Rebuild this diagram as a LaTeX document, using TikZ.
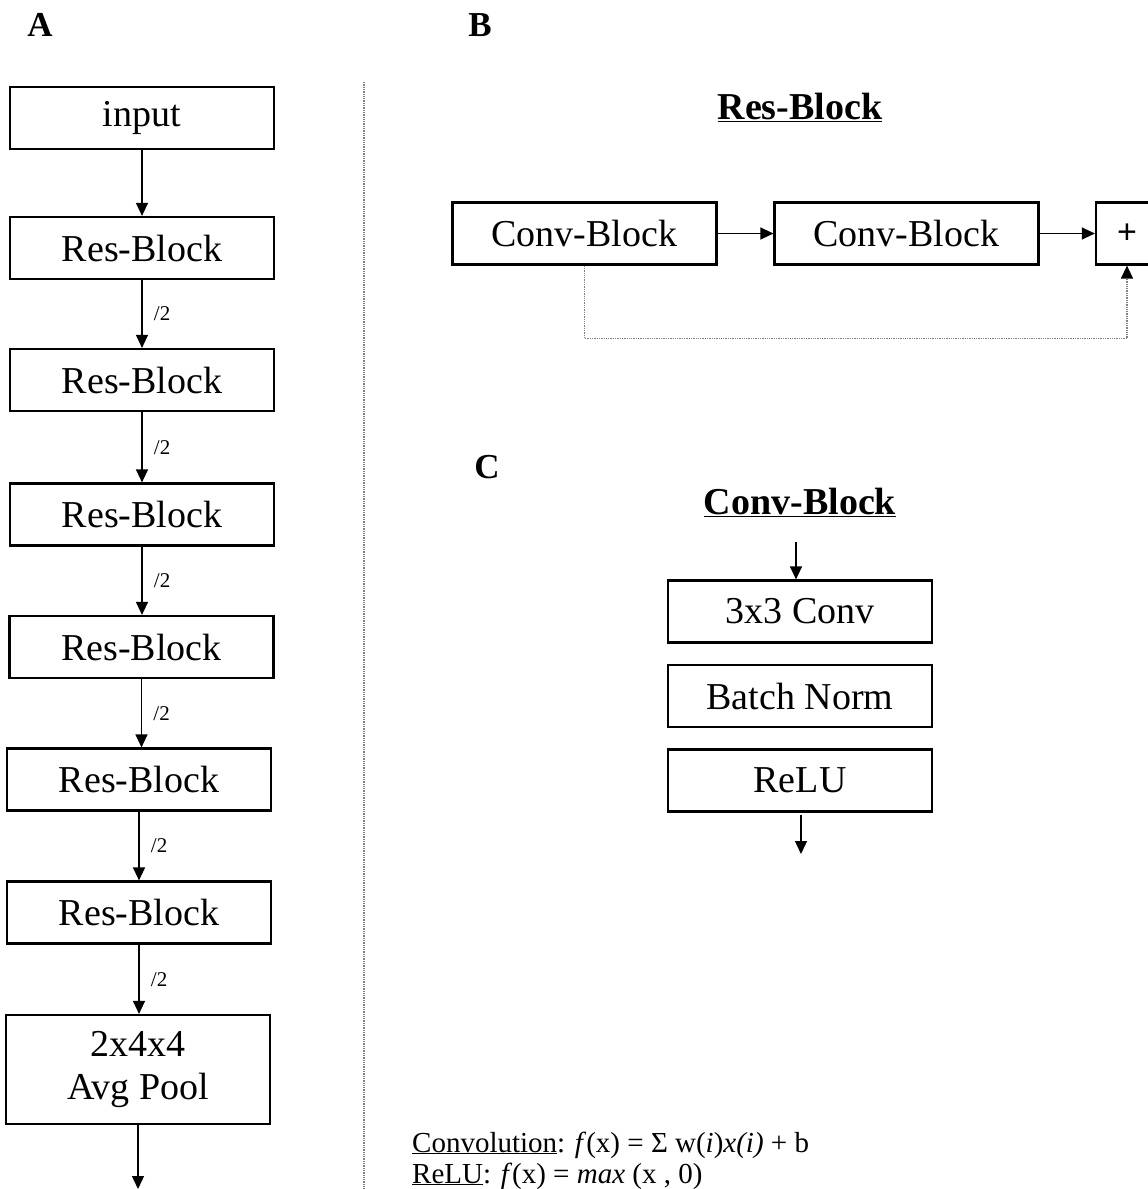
\documentclass[tikz,border=0pt]{standalone}
\usepackage{fontspec}
\setmainfont{Liberation Serif}
\newfontfamily\plusfont{Liberation Sans}
\usetikzlibrary{arrows.meta}
\begin{document}
\begin{tikzpicture}[x=1pt,y=-1pt,
  blk/.style={draw, line width=2.2pt, minimum width=264pt, minimum height=62pt, inner sep=0pt, font=\fontsize{38}{44}\selectfont},
  arr/.style={-{Triangle[length=13pt,width=12pt]}, line width=1.3pt},
  dotarr/.style={densely dotted, draw=gray, line width=1.3pt, -{Triangle[length=13pt,width=12pt,black]}},
  half/.style={font=\fontsize{21}{24}\selectfont},
  panel/.style={font=\bfseries\fontsize{35}{40}\selectfont},
  ttl/.style={font=\bfseries\fontsize{38}{44}\selectfont},
  sep/.style={densely dotted, draw=gray, line width=1.3pt},
  fml/.style={anchor=base west, inner sep=0pt, font=\fontsize{29}{32}\selectfont}]
\useasboundingbox (0,0) rectangle (1148,1189);

% Panel A
\node[panel] (la) at (40,25) {A};
\node[blk] (in) at (142,118) {input};
\node[blk] (r1) at (142,248) {Res-Block};
\node[blk] (r2) at (142,380) {Res-Block};
\node[blk] (r3) at (142,514.5) {Res-Block};
\node[blk] (r4) at (141.5,647) {Res-Block};
\node[blk] (r5) at (139,779.5) {Res-Block};
\node[blk] (r6) at (139,912.5) {Res-Block};
\node[blk, minimum height=109pt, align=center] (ap) at (138,1069.5) {2x4x4\\[-1pt]Avg Pool};
\coordinate (aout) at (138,1189);

\draw[arr] (in) -- (r1);
\draw[arr] (r1.south) -- node[half, right=8pt] {/2} (r1.south |- r2.north);
\draw[arr] (r2.south) -- node[half, right=8pt] {/2} (r2.south |- r3.north);
\draw[arr] (r3.south) -- node[half, right=8pt] {/2} (r3.south |- r4.north);
\draw[arr] (r4.south) -- node[half, right=8pt] {/2} (r4.south |- r5.north);
\draw[arr] (r5.south) -- node[half, right=8pt] {/2} (r5.south |- r6.north);
\draw[arr] (r6.south) -- node[half, right=8pt] {/2} (r6.south |- ap.north);
\draw[arr] (ap.south) -- (aout);

% separator
\coordinate (s1) at (364,82);
\coordinate (s2) at (364,1189);
\draw[sep] (s1) -- (s2);

% Panel B
\node[panel] (lb) at (480,25) {B};
\node[ttl] (rbt) at (800,107) {\underline{Res-Block}};
\node[blk] (cb1) at (584.5,233.5) {Conv-Block};
\node[blk] (cb2) at (906.5,233.5) {Conv-Block};
\node[blk, minimum width=62pt, font=\plusfont\fontsize{34}{40}\selectfont] (plus) at (1127,233.5) {+};
\draw[arr] (cb1) -- (cb2);
\draw[arr] (cb2) -- (plus);
\draw[dotarr] (cb1.south) -- ++(0,73) -| (plus.south);

% Panel C
\node[panel] (lc) at (487,467) {C};
\node[ttl] (cbt) at (800,502) {\underline{Conv-Block}};
\node[blk] (cv) at (800,611.5) {3x3 Conv};
\node[blk] (bn) at (800,696) {Batch Norm};
\node[blk] (rl) at (800,780.5) {ReLU};
\coordinate (cin) at (796,542);
\draw[arr] (cin) -- (cin |- cv.north);
\coordinate (cos) at (801,815);
\coordinate (cout) at (801,854);
\draw[arr] (cos) -- (cout);

% formulas
\node[fml] (f1) at (412,1152) {\underline{Convolution}: \textit{f}(x) = Σ w(\textit{i})\textit{x(i)} + b};
\node[fml] (f2) at (412,1183) {\underline{ReLU}: \textit{f}(x) = \textit{max} (x , 0)};
\end{tikzpicture}
\end{document}
